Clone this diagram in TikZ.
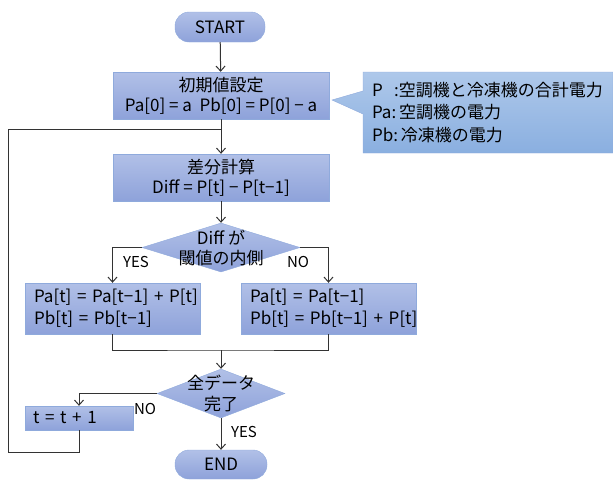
\documentclass[tikz,border=0pt]{standalone}
\usepackage{fontspec}
\setmainfont{Noto Sans CJK JP}
\usetikzlibrary{shapes.geometric,shapes.callouts,arrows.meta}
\definecolor{boxtop}{HTML}{B1C0E7}
\definecolor{boxbot}{HTML}{8EA2DA}
\definecolor{boxline}{HTML}{8FAADC}
\definecolor{notetop}{HTML}{AEC8EA}
\definecolor{notebot}{HTML}{8AAFE0}

\begin{document}
\begin{tikzpicture}[x=1pt,y=-1pt,font=\fontsize{17}{20}\selectfont]
	 \tikzstyle{terminal}=[rectangle,rounded corners=14pt,draw=boxline,top color=boxtop,bottom color=boxbot,minimum width=90pt,minimum height=30pt,inner sep=0pt]
	 \tikzstyle{process}=[rectangle,draw=boxline,top color=boxtop,bottom color=boxbot,minimum width=216pt,minimum height=47pt,inner sep=0pt,align=center]
	 \tikzstyle{branch}=[rectangle,draw=boxline,top color=boxtop,bottom color=boxbot,minimum width=175pt,minimum height=51pt,inner sep=0pt,text width=157pt,align=left,font=\fontsize{17}{22}\selectfont]
	 \tikzstyle{decision}=[diamond,draw=boxline,top color=boxtop,bottom color=boxbot,inner sep=0pt]
	 \tikzstyle{note}=[rectangle callout,draw=boxline,top color=notetop,bottom color=notebot,minimum width=250pt,minimum height=81pt,inner sep=0pt,text width=232pt,align=left,font=\fontsize{17}{22.5}\selectfont]
	 \tikzstyle{flow}=[draw,line width=1pt,black!80,-{Straight Barb[length=5pt,width=9pt]}]
	 \tikzstyle{line}=[draw,line width=1pt,black!80]
	 \tikzstyle{answer}=[font=\fontsize{15}{17}\selectfont,inner sep=0pt]

	 \useasboundingbox (0,0) rectangle (613,480);

	 \node[terminal] (start) at (220,27) {START};
	 \node[process] (init) at (221,95.5) {初期値設定\\Pa[0]~=~a\ \ Pb[0]~=~P[0]~−~a};
	 \node[note,callout absolute pointer={(332,100)},callout pointer width=23pt] (legend) at (488,112.5)
	   {\makebox[1.3em][l]{P}:\hbox{空調機と冷凍機の合計電力}\\Pa:\,空調機の電力\\Pb:\,冷凍機の電力};
	 \node[process] (diff) at (221,177.5) {差分計算\\Diff~=~P[t]~−~P[t−1]};
	 \node[decision,minimum width=158pt,minimum height=49pt,label={[align=center,font=\fontsize{17}{20}\selectfont]center:Diff が\\閾値の内側}] (inside) at (221,247.5) {};
	 \node[branch] (yesbox) at (112.5,308.5) {Pa[t]~=~Pa[t−1]~+~P[t]\\Pb[t]~=~Pb[t−1]};
	 \node[branch] (nobox) at (328.5,308.5) {Pa[t]~=~Pa[t−1]\\Pb[t]~=~Pb[t−1]~+~P[t]};
	 \node[decision,minimum width=128pt,minimum height=49pt,label={[align=center,font=\fontsize{17}{21}\selectfont]center:全データ\\完了}] (alldone) at (221,393.5) {};
	 \node[rectangle,draw=boxline,top color=boxtop,bottom color=boxbot,minimum width=108pt,minimum height=24pt,inner sep=0pt,text width=92pt,align=left] (incbox) at (79,418) {t~=~t~+~1};
	 \node[terminal,minimum width=92pt,minimum height=29pt] (end) at (221,464.5) {END};

	 \coordinate (loopin) at (221,129);
	 \coordinate (loopcorner) at (8,452);
	 \coordinate (merge) at (221,350);

	 \draw[flow] (start) -- (init);
	 \draw[flow] (init) -- (diff);
	 \draw[flow] (diff) -- (inside);
	 \draw[flow] (inside.west) -| (yesbox.north);
	 \draw[flow] (inside.east) -| (nobox.north);
	 \draw[line] (yesbox.south) |- (merge) -| (nobox.south);
	 \draw[flow] (merge) -- (alldone);
	 \draw[flow] (alldone.west) -| (incbox.north);
	 \draw[flow] (alldone) -- (end);
	 \draw[line] (incbox.south) |- (loopcorner) |- (loopin);

	 \node[answer] (yes1) at (136,262) {YES};
	 \node[answer] (no1) at (298,262) {NO};
	 \node[answer] (no2) at (145,409) {NO};
	 \node[answer] (yes2) at (244,432) {YES};
\end{tikzpicture}
\end{document}
